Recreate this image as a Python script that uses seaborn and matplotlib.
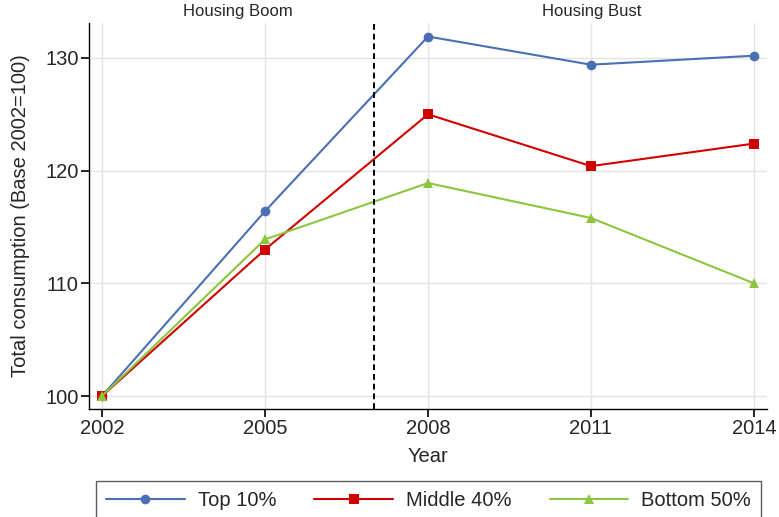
import matplotlib
matplotlib.use("Agg")
import matplotlib.pyplot as plt
import pandas as pd
import seaborn as sns

# data
years = [2002, 2005, 2008, 2011, 2014]
top10 = [100, 116.4, 131.9, 129.4, 130.2]
middle40 = [100, 113.0, 125.0, 120.4, 122.4]
bottom50 = [100, 113.9, 118.9, 115.8, 110.0]
groups = ["Top 10%", "Middle 40%", "Bottom 50%"]

df = pd.DataFrame({"Year": years * 3,
                   "value": top10 + middle40 + bottom50,
                   "group": [g for g in groups for _ in years]})

sns.set_style("ticks")
plt.rcParams['font.family'] = ['Liberation Sans', 'DejaVu Sans']

colors = {"Top 10%": "#4a6fb3", "Middle 40%": "#d00000", "Bottom 50%": "#8dc53e"}
markers = {"Top 10%": "o", "Middle 40%": "s", "Bottom 50%": "^"}

fig = plt.figure(figsize=(7.79, 5.17), dpi=100)
ax = fig.add_axes([89 / 779, 1 - 409 / 517, (767 - 89) / 779, (409 - 23) / 517])

sns.lineplot(data=df, x="Year", y="value", hue="group", style="group",
             palette=colors, markers=markers, dashes=False, markersize=7,
             markeredgewidth=0, linewidth=1.5, ax=ax, legend=False)

ax.set_xlim(2001.76, 2014.24)
ax.set_ylim(98.85, 133.1)
ax.set_xticks(years)
ax.set_yticks([100, 110, 120, 130])
ax.grid(True, color="#e3e3e3", linewidth=1)
ax.set_axisbelow(True)
for s in ["top", "right"]:
    ax.spines[s].set_visible(False)
for s in ["left", "bottom"]:
    ax.spines[s].set_color("black")
    ax.spines[s].set_linewidth(1)
ax.tick_params(axis="both", labelsize=14.5, length=5.5, width=1.2, color="black",
               direction="out", pad=2, bottom=True, left=True)

ax.axvline(2007, color="black", linestyle=(0, (3, 2)), linewidth=1.4)
ax.text(2004.5, 1.01, "Housing Boom", transform=ax.get_xaxis_transform(),
        ha="center", va="bottom", fontsize=12)
ax.text(2011.02, 1.01, "Housing Bust", transform=ax.get_xaxis_transform(),
        ha="center", va="bottom", fontsize=12)

ax.set_xlabel("Year", fontsize=14.5, labelpad=6)
ax.set_ylabel("Total consumption (Base 2002=100)", fontsize=14.5, labelpad=11)

handles = [plt.Line2D([], [], color=colors[g], marker=markers[g], markersize=7,
                      markeredgewidth=0, linewidth=1.5) for g in groups]
leg = fig.legend(handles, groups, loc="upper left", ncol=3,
                 bbox_to_anchor=(96 / 779, 1 - 481 / 517), fontsize=14.5,
                 frameon=True, fancybox=False, edgecolor="#333333",
                 handlelength=3.9, handletextpad=0.65, columnspacing=1.9,
                 borderpad=0.5, borderaxespad=0)
leg.get_frame().set_linewidth(1)

fig.savefig("out.png", dpi=100)
